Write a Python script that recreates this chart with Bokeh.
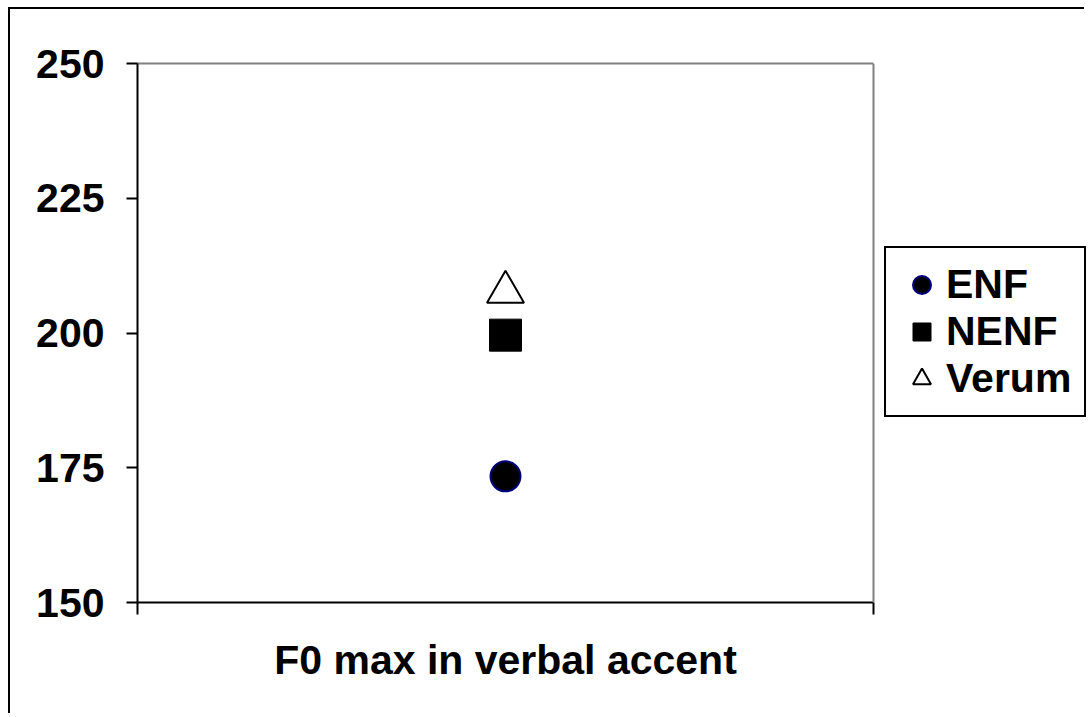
from bokeh.plotting import figure
from bokeh.models import Legend, LegendItem, FixedTicker, Range1d, LinearAxis, Span
from bokeh.embed import file_html
from bokeh.resources import INLINE

# ---- data ----
categories = ["F0 max in verbal accent"]
series_names = ["ENF", "NENF", "Verum"]
enf = [173.4]
nenf = [199.6]
verum = [207.6]
y_ticks = [150, 175, 200, 225, 250]

FONT = "Liberation Sans"
FS = "41px"

x_pos = [i + 1 for i in range(len(categories))]
x_bounds = [i + 0.5 for i in range(len(categories) + 1)]

# layout (pixels)
W, H = 1076, 706
LEFT, TOP, BOTTOM = 127, 54, 113
AREA_W = 736                      # width of the plotting area
FRAME_W = W - LEFT                # frame continues under the legend
n = len(categories)
x_end = x_bounds[0] + n * FRAME_W / AREA_W

p = figure(width=W, height=H, output_backend="svg", toolbar_location=None,
           x_range=Range1d(x_bounds[0], x_end),
           y_range=Range1d(y_ticks[0], y_ticks[-1]),
           min_border_left=LEFT, min_border_top=TOP,
           min_border_right=0, min_border_bottom=BOTTOM,
           x_axis_location=None)
p.styles = {"margin-left": "8px", "margin-top": "7px",
            "border-top": "2px solid #000", "border-left": "2px solid #000"}
p.grid.visible = False
p.background_fill_color = "white"
p.border_fill_color = "white"
p.outline_line_color = None

# y axis
ya = p.yaxis[0]
ya.ticker = FixedTicker(ticks=y_ticks, minor_ticks=[])
ya.major_tick_out = 11
ya.major_tick_in = 0
ya.major_tick_line_width = 2
ya.major_tick_line_color = "black"
ya.axis_line_width = 2
ya.axis_line_color = "black"
ya.major_label_standoff = 22
ya.major_label_text_font = FONT
ya.major_label_text_font_style = "bold"
ya.major_label_text_font_size = FS
ya.major_label_text_color = "black"

# x axis: boundary ticks, no labels
xa = LinearAxis(ticker=FixedTicker(ticks=x_bounds, minor_ticks=[]),
                bounds=(x_bounds[0], x_bounds[-1]),
                major_label_overrides={b: "" for b in x_bounds},
                major_tick_out=12, major_tick_in=0,
                major_tick_line_width=2, major_tick_line_color="black",
                axis_line_width=2, axis_line_color="black",
                major_label_standoff=0)
p.add_layout(xa, "below")

# category labels (second axis, only labels)
xl = LinearAxis(ticker=FixedTicker(ticks=x_pos, minor_ticks=[]),
                major_label_overrides={x: c for x, c in zip(x_pos, categories)},
                major_tick_out=0, major_tick_in=0,
                major_tick_line_color=None, axis_line_color=None,
                major_label_standoff=22,
                major_label_text_font=FONT, major_label_text_font_style="bold",
                major_label_text_font_size=FS, major_label_text_color="black")
p.add_layout(xl, "below")

# top and right edges of the plotting area (grey)
top_axis = LinearAxis(ticker=FixedTicker(ticks=[], minor_ticks=[]),
                      bounds=(x_bounds[0], x_bounds[-1]),
                      axis_line_color="#808080", axis_line_width=2,
                      major_tick_line_color=None, minor_tick_line_color=None)
p.add_layout(top_axis, "above")
p.add_layout(Span(location=x_bounds[-1], dimension="height",
                  line_color="#808080", line_width=2))

r1 = p.scatter(x_pos, enf, marker="circle", size=30, fill_color="black",
               line_color="#000080", line_width=2)
r2 = p.scatter(x_pos, nenf, marker="square", size=32, fill_color="black",
               line_color="black", line_width=1)
r3 = p.scatter(x_pos, verum, marker="triangle", size=37, fill_color="white",
               line_color="black", line_width=2)

legend = Legend(items=[LegendItem(label=s, renderers=[r])
                       for s, r in zip(series_names, [r1, r2, r3])],
                location=(747, 185), margin=0, padding=13,
                glyph_width=45, glyph_height=45, spacing=0, label_standoff=2,
                label_text_font=FONT, label_text_font_style="bold",
                label_text_font_size=FS, label_text_color="black",
                border_line_color="black", border_line_width=2, border_line_alpha=1,
                background_fill_color="white", background_fill_alpha=1)
p.add_layout(legend, "center")

open("out.html", "w").write(file_html(p, INLINE))
